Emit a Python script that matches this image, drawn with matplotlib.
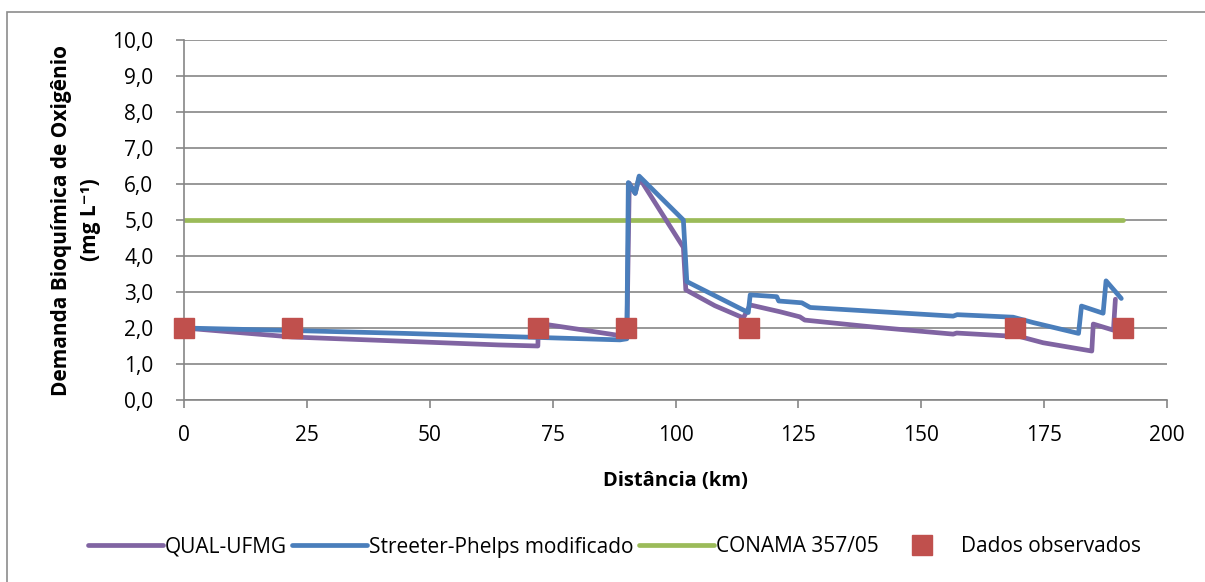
import numpy as np
import matplotlib.pyplot as plt
from matplotlib.patches import Rectangle
from matplotlib.ticker import FuncFormatter

# DBO ao longo do rio: modelos x dados observados
qual_x = [0, 22, 45, 64, 72.0, 72.1, 80, 90.1, 90.6, 91.8, 92.6, 101.6, 102.1,
          108, 113.8, 115.2, 121.3, 125.3, 126.3, 140, 156.5, 157.2, 170.1,
          174.8, 184.7, 185.0, 189.1, 189.5]
qual_y = [2.00, 1.75, 1.63, 1.53, 1.50, 2.13, 1.97, 1.76, 6.02, 5.74, 6.18, 4.24, 3.06,
          2.62, 2.28, 2.64, 2.45, 2.31, 2.22, 2.03, 1.83, 1.86, 1.76,
          1.59, 1.36, 2.11, 1.94, 2.80]

sp_x = [0, 22, 45, 64, 88.7, 90.1, 90.4, 91.8, 92.6, 101.6, 102.3, 114.8, 115.2,
        120.6, 121.0, 125.7, 127.4, 156.5, 157.3, 168.7, 172.8, 182.0, 182.6,
        187.0, 187.6, 190.7]
sp_y = [2.00, 1.93, 1.85, 1.77, 1.67, 1.70, 6.04, 5.74, 6.22, 5.00, 3.29, 2.43, 2.92,
        2.87, 2.75, 2.70, 2.57, 2.33, 2.37, 2.30, 2.15, 1.85, 2.61,
        2.41, 3.31, 2.82]

conama_x = [0, 191]
conama_y = [5.0, 5.0]

obs_x = [0, 22, 72, 90, 115, 169, 191]
obs_y = [2.0, 2.0, 2.0, 2.0, 2.0, 2.0, 2.0]

plt.rcParams['font.family'] = ['Open Sans', 'DejaVu Sans']

fig = plt.figure(figsize=(12.05, 5.82), dpi=100)
ax = fig.add_axes([184 / 1205, 1 - 400 / 582, (1167 - 184) / 1205, 360 / 582])

# moldura externa
fig.patches.append(Rectangle((7 / 1205, -0.01), 1.0, 1 - 12 / 582 + 0.01,
                             transform=fig.transFigure, fill=False,
                             edgecolor='#8c8c8c', linewidth=1.2))

ax.plot(qual_x, qual_y, color='#8064A2', lw=3.4, label='QUAL-UFMG',
        solid_joinstyle='round', solid_capstyle='round', zorder=3)
ax.plot(sp_x, sp_y, color='#4A7EBB', lw=3.4, label='Streeter-Phelps modificado',
        solid_joinstyle='round', solid_capstyle='round', zorder=4)
ax.plot(conama_x, conama_y, color='#9BBB59', lw=3.4, label='CONAMA 357/05',
        solid_capstyle='round', zorder=2)
ax.plot(obs_x, obs_y, ls='none', marker='s', ms=14, color='#C0504D',
        markeredgecolor='#C0504D', label='Dados observados', zorder=5, clip_on=False)

ax.set_xlim(0, 200)
ax.set_ylim(0, 10)
ax.set_xticks(np.arange(0, 201, 25))
ax.set_yticks(np.arange(0, 10.1, 1))
ax.yaxis.set_major_formatter(FuncFormatter(lambda v, p: f'{v:.1f}'.replace('.', ',')))
ax.grid(axis='y', color='#868686', lw=1.2)
ax.set_axisbelow(True)
for s in ['top', 'right']:
    ax.spines[s].set_visible(False)
for s in ['left', 'bottom']:
    ax.spines[s].set_color('#868686')
    ax.spines[s].set_linewidth(1.2)
ax.tick_params(axis='both', colors='#868686', labelcolor='black', labelsize=15,
               length=6, width=1.2)
ax.tick_params(axis='y', pad=16)
ax.tick_params(axis='x', pad=12)

ax.set_xlabel('Distância (km)', fontsize=14.5, fontweight='bold', labelpad=18)
ax.set_ylabel('Demanda Bioquímica de Oxigênio\n(mg L⁻¹)',
              fontsize=15, fontweight='bold', labelpad=8, linespacing=1.5)

fig.legend(loc='center', bbox_to_anchor=(0.51, 1 - 547 / 582), ncol=4,
           frameon=False, fontsize=15, handlelength=3.6, columnspacing=0.25,
           handletextpad=0.1, borderaxespad=0)

fig.savefig('out.png', dpi=100)
